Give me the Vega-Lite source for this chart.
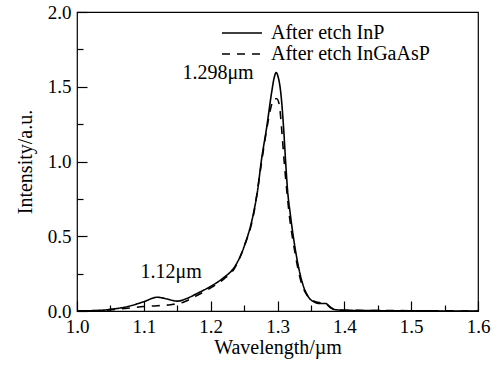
{
  "$schema": "https://vega.github.io/schema/vega-lite/v6.json",
  "width": 401,
  "height": 299,
  "autosize": "none",
  "padding": {"left": 77, "top": 12, "right": 24, "bottom": 54},
  "background": "white",
  "config": {
    "view": {"stroke": "black", "strokeWidth": 1.2},
    "font": "Liberation Serif",
    "axis": {
      "labelFont": "Liberation Serif",
      "labelFontSize": 19,
      "labelColor": "black",
      "titleFont": "Liberation Serif",
      "titleFontSize": 20,
      "titleFontWeight": "normal",
      "titleColor": "black",
      "domain": false,
      "ticks": true,
      "tickColor": "black",
      "tickWidth": 1.2,
      "grid": false
    },
    "legend": {
      "labelFont": "Liberation Serif",
      "labelFontSize": 20,
      "labelColor": "black"
    }
  },
  "resolve": {"axis": {"x": "independent", "y": "independent"}},
  "data": {
    "values": [
      {"wl": 1.00, "y": 0.0, "s": "After etch InP"},
      {"wl": 1.02, "y": 0.002, "s": "After etch InP"},
      {"wl": 1.04, "y": 0.006, "s": "After etch InP"},
      {"wl": 1.05, "y": 0.011, "s": "After etch InP"},
      {"wl": 1.075, "y": 0.029, "s": "After etch InP"},
      {"wl": 1.10, "y": 0.062, "s": "After etch InP"},
      {"wl": 1.12, "y": 0.092, "s": "After etch InP"},
      {"wl": 1.135, "y": 0.08, "s": "After etch InP"},
      {"wl": 1.15, "y": 0.066, "s": "After etch InP"},
      {"wl": 1.165, "y": 0.085, "s": "After etch InP"},
      {"wl": 1.18, "y": 0.118, "s": "After etch InP"},
      {"wl": 1.20, "y": 0.165, "s": "After etch InP"},
      {"wl": 1.22, "y": 0.225, "s": "After etch InP"},
      {"wl": 1.235, "y": 0.29, "s": "After etch InP"},
      {"wl": 1.25, "y": 0.43, "s": "After etch InP"},
      {"wl": 1.264, "y": 0.653, "s": "After etch InP"},
      {"wl": 1.27, "y": 0.8, "s": "After etch InP"},
      {"wl": 1.276, "y": 1.01, "s": "After etch InP"},
      {"wl": 1.284, "y": 1.233, "s": "After etch InP"},
      {"wl": 1.291, "y": 1.456, "s": "After etch InP"},
      {"wl": 1.295, "y": 1.56, "s": "After etch InP"},
      {"wl": 1.298, "y": 1.595, "s": "After etch InP"},
      {"wl": 1.301, "y": 1.565, "s": "After etch InP"},
      {"wl": 1.305, "y": 1.456, "s": "After etch InP"},
      {"wl": 1.309, "y": 1.233, "s": "After etch InP"},
      {"wl": 1.312, "y": 1.01, "s": "After etch InP"},
      {"wl": 1.315, "y": 0.81, "s": "After etch InP"},
      {"wl": 1.319, "y": 0.653, "s": "After etch InP"},
      {"wl": 1.326, "y": 0.43, "s": "After etch InP"},
      {"wl": 1.336, "y": 0.207, "s": "After etch InP"},
      {"wl": 1.346, "y": 0.096, "s": "After etch InP"},
      {"wl": 1.355, "y": 0.06, "s": "After etch InP"},
      {"wl": 1.364, "y": 0.05, "s": "After etch InP"},
      {"wl": 1.372, "y": 0.05, "s": "After etch InP"},
      {"wl": 1.378, "y": 0.03, "s": "After etch InP"},
      {"wl": 1.385, "y": 0.01, "s": "After etch InP"},
      {"wl": 1.40, "y": 0.005, "s": "After etch InP"},
      {"wl": 1.43, "y": 0.003, "s": "After etch InP"},
      {"wl": 1.46, "y": 0.002, "s": "After etch InP"},
      {"wl": 1.50, "y": 0.001, "s": "After etch InP"},
      {"wl": 1.60, "y": 0.0, "s": "After etch InP"},
      {"wl": 1.00, "y": 0.0, "s": "After etch InGaAsP"},
      {"wl": 1.04, "y": 0.004, "s": "After etch InGaAsP"},
      {"wl": 1.06, "y": 0.012, "s": "After etch InGaAsP"},
      {"wl": 1.08, "y": 0.02, "s": "After etch InGaAsP"},
      {"wl": 1.10, "y": 0.03, "s": "After etch InGaAsP"},
      {"wl": 1.12, "y": 0.035, "s": "After etch InGaAsP"},
      {"wl": 1.14, "y": 0.042, "s": "After etch InGaAsP"},
      {"wl": 1.16, "y": 0.06, "s": "After etch InGaAsP"},
      {"wl": 1.18, "y": 0.105, "s": "After etch InGaAsP"},
      {"wl": 1.20, "y": 0.155, "s": "After etch InGaAsP"},
      {"wl": 1.22, "y": 0.215, "s": "After etch InGaAsP"},
      {"wl": 1.235, "y": 0.28, "s": "After etch InGaAsP"},
      {"wl": 1.25, "y": 0.43, "s": "After etch InGaAsP"},
      {"wl": 1.264, "y": 0.64, "s": "After etch InGaAsP"},
      {"wl": 1.276, "y": 0.99, "s": "After etch InGaAsP"},
      {"wl": 1.284, "y": 1.22, "s": "After etch InGaAsP"},
      {"wl": 1.29, "y": 1.36, "s": "After etch InGaAsP"},
      {"wl": 1.295, "y": 1.42, "s": "After etch InGaAsP"},
      {"wl": 1.299, "y": 1.42, "s": "After etch InGaAsP"},
      {"wl": 1.303, "y": 1.37, "s": "After etch InGaAsP"},
      {"wl": 1.306, "y": 1.23, "s": "After etch InGaAsP"},
      {"wl": 1.31, "y": 1.0, "s": "After etch InGaAsP"},
      {"wl": 1.314, "y": 0.8, "s": "After etch InGaAsP"},
      {"wl": 1.318, "y": 0.63, "s": "After etch InGaAsP"},
      {"wl": 1.325, "y": 0.42, "s": "After etch InGaAsP"},
      {"wl": 1.335, "y": 0.2, "s": "After etch InGaAsP"},
      {"wl": 1.345, "y": 0.1, "s": "After etch InGaAsP"},
      {"wl": 1.355, "y": 0.065, "s": "After etch InGaAsP"},
      {"wl": 1.365, "y": 0.055, "s": "After etch InGaAsP"},
      {"wl": 1.372, "y": 0.05, "s": "After etch InGaAsP"},
      {"wl": 1.38, "y": 0.02, "s": "After etch InGaAsP"},
      {"wl": 1.39, "y": 0.008, "s": "After etch InGaAsP"},
      {"wl": 1.42, "y": 0.004, "s": "After etch InGaAsP"},
      {"wl": 1.46, "y": 0.003, "s": "After etch InGaAsP"},
      {"wl": 1.50, "y": 0.002, "s": "After etch InGaAsP"},
      {"wl": 1.60, "y": 0.0, "s": "After etch InGaAsP"}
    ]
  },
  "layer": [
    {
      "mark": {"type": "line", "interpolate": "monotone", "color": "black", "strokeWidth": 1.6},
      "encoding": {
        "x": {
          "field": "wl", "type": "quantitative",
          "scale": {"domain": [1.0, 1.6], "nice": false, "zero": false},
          "axis": {
            "orient": "bottom",
            "title": "Wavelength/\u00b5m",
            "values": [1.0, 1.1, 1.2, 1.3, 1.4, 1.5, 1.6],
            "format": ".1f",
            "offset": -10,
            "tickSize": 10,
            "labelPadding": 6,
            "labelFlush": false,
            "labelOverlap": false,
            "titlePadding": 1
          }
        },
        "y": {
          "field": "y", "type": "quantitative",
          "scale": {"domain": [0, 2.0], "nice": false},
          "axis": {
            "orient": "left",
            "title": "Intensity/a.u.",
            "values": [0, 0.5, 1.0, 1.5, 2.0],
            "format": ".1f",
            "offset": -10,
            "tickSize": 10,
            "labelPadding": 6,
            "labelFlush": false,
            "labelOverlap": false,
            "titlePadding": 12
          }
        },
        "strokeDash": {
          "field": "s", "type": "nominal",
          "scale": {"domain": ["After etch InP", "After etch InGaAsP"], "range": [[1, 0], [8, 7]]},
          "legend": {
            "title": null,
            "orient": "none",
            "legendX": 154,
            "legendY": 10,
            "symbolType": "M-2,0H2",
            "symbolSize": 400,
            "symbolStrokeWidth": 1.6,
            "symbolStrokeColor": "black",
            "labelOffset": 18,
            "rowPadding": -6
          }
        }
      }
    },
    {
      "data": {"values": [
        {"wl": 1.211, "y": 1.55, "label": "1.298\u03bcm"},
        {"wl": 1.141, "y": 0.22, "label": "1.12\u03bcm"}
      ]},
      "mark": {"type": "text", "font": "Liberation Serif", "fontSize": 20, "color": "black", "baseline": "alphabetic", "align": "center"},
      "encoding": {
        "x": {
          "field": "wl", "type": "quantitative",
          "axis": {
            "orient": "bottom",
            "title": null,
            "values": [1.05, 1.15, 1.25, 1.35, 1.45, 1.55],
            "labels": false,
            "offset": -6,
            "tickSize": 6
          }
        },
        "y": {
          "field": "y", "type": "quantitative",
          "axis": {
            "orient": "left",
            "title": null,
            "values": [0.25, 0.75, 1.25, 1.75],
            "labels": false,
            "offset": -6,
            "tickSize": 6
          }
        },
        "text": {"field": "label"}
      }
    }
  ]
}
